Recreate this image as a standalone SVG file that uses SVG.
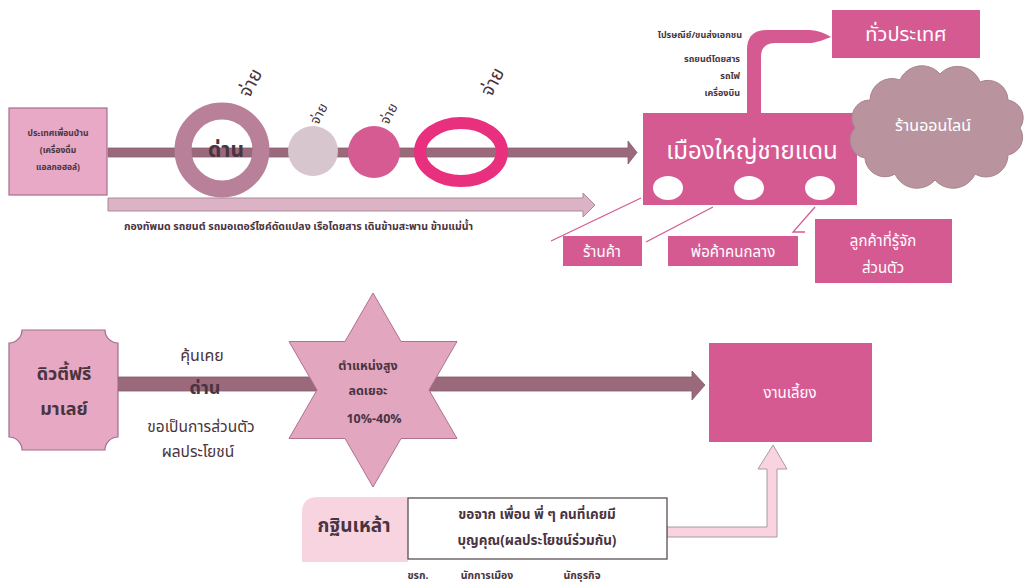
<svg xmlns="http://www.w3.org/2000/svg" width="1026" height="583" viewBox="0 0 1026 583">
<style>
text{font-family:"Noto Sans Thai","Noto Sans","DejaVu Sans","Liberation Sans",sans-serif;text-anchor:middle}
.dk{fill:#4a3440}
.b{font-weight:bold}
.w{fill:#ffffff}
.pink{fill:#d65a92}
.conn{stroke:#d65a92;stroke-width:1.3;fill:none}
</style>
<rect width="1026" height="583" fill="#ffffff"/>

<g id="connectors">
  <path d="M108,148 L628,148 L628,141 L637,152.5 L628,164 L628,157 L108,157 Z" fill="#9a6a7c" stroke="#8a5d6f" stroke-width="0.8"/>
  <path d="M108,198 L583,198 L583,193 L595,205 L583,217 L583,211 L108,211 Z" fill="#dcb3c5" stroke="#a9899a" stroke-width="1"/>
  <path d="M641,198 L551,241" class="conn"/>
  <path d="M713,207 L646,242" class="conn"/>
  <path d="M815,207 L793,232 L805,232" class="conn"/>
  <path d="M747,113 L747,50 Q747,30 767,30 L810,30 Q822,31 831,37 Q822,41 812,43 L775,43 Q761,43 761,57 L761,113 Z" fill="#d65a92"/>
  <path d="M118,377 L692,377 L692,371 L705,385 L692,400 L692,391 L118,391 Z" fill="#9a6a7c" stroke="#85596b" stroke-width="0.8"/>
  <path d="M667,527 L767,527 L767,469 L758,469 L773,445 L787,469 L777,469 L777,537 L667,537 Z" fill="#f9d3df" stroke="#a89aa2" stroke-width="1"/>
</g>

<g id="node-neighbor">
  <rect x="9" y="108" width="98" height="87" fill="#e7a9c5" stroke="#a76f8a" stroke-width="1.2"/>
  <text x="58" y="136" class="dk b" font-size="8.5">ประเทศเพื่อนบ้าน</text>
  <text x="58" y="153" class="dk b" font-size="8.5">(เครื่องดื่ม</text>
  <text x="58" y="170" class="dk b" font-size="8.5">แอลกอฮอล์)</text>
</g>

<g id="node-checkpoint-ring">
  <circle cx="222" cy="150" r="39" fill="none" stroke="#b98099" stroke-width="17"/>
  <text x="226" y="157" class="dk b" font-size="21">ด่าน</text>
  <text x="0" y="0" class="dk" font-size="19" transform="translate(256,86) rotate(-62)">จ่าย</text>
</g>
<g id="node-circle-light">
  <circle cx="313" cy="151" r="25" fill="#d8c6ce"/>
  <text x="0" y="0" class="dk" font-size="14" transform="translate(323,116) rotate(-62)">จ่าย</text>
</g>
<g id="node-circle-pink">
  <circle cx="374" cy="152" r="26" fill="#d65b93"/>
  <text x="0" y="0" class="dk" font-size="14" transform="translate(393,116) rotate(-62)">จ่าย</text>
</g>
<g id="node-ring-magenta">
  <ellipse cx="461" cy="152" rx="41" ry="29" fill="none" stroke="#e8307e" stroke-width="12"/>
  <text x="0" y="0" class="dk" font-size="19" transform="translate(498,85) rotate(-62)">จ่าย</text>
</g>

<g id="label-routes">
  <text x="124" y="230" class="dk b" font-size="10.5" style="text-anchor:start">กองทัพมด   รถยนต์  รถมอเตอร์ไซค์ดัดแปลง เรือโดยสาร เดินข้ามสะพาน ข้ามแม่น้ำ</text>
</g>

<g id="node-border-city">
  <rect x="643" y="113" width="214" height="92" class="pink"/>
  <text x="752" y="159" class="w" font-size="24">เมืองใหญ่ชายแดน</text>
  <ellipse cx="668" cy="188" rx="15" ry="12" fill="#ffffff"/>
  <ellipse cx="749" cy="188" rx="15" ry="12" fill="#ffffff"/>
  <ellipse cx="820" cy="188" rx="15" ry="12" fill="#ffffff"/>
</g>

<g id="label-transport">
  <text x="742" y="38" class="dk b" font-size="9" style="text-anchor:end">ไปรษณีย์/ขนส่งเอกชน</text>
  <text x="740" y="62" class="dk b" font-size="9" style="text-anchor:end">รถยนต์โดยสาร</text>
  <text x="740" y="79" class="dk b" font-size="9" style="text-anchor:end">รถไฟ</text>
  <text x="740" y="96" class="dk b" font-size="9" style="text-anchor:end">เครื่องบิน</text>
</g>

<g id="node-nationwide">
  <rect x="832" y="10" width="148" height="48" class="pink"/>
  <text x="906" y="41" class="w" font-size="20">ทั่วประเทศ</text>
</g>

<g id="node-online">
  <path d="M870,100 A22,22 0 0,1 900,80 A24,24 0 0,1 940,74 A24,24 0 0,1 980,82 A20,20 0 0,1 1008,100 A18,18 0 0,1 1020,128 A18,18 0 0,1 1008,155 A22,22 0 0,1 975,174 A24,24 0 0,1 935,180 A24,24 0 0,1 895,174 A20,20 0 0,1 865,158 A18,18 0 0,1 855,128 A18,18 0 0,1 870,100 Z" fill="#b9949f" stroke="#a88390" stroke-width="1"/>
  <text x="933" y="131" class="w" font-size="16">ร้านออนไลน์</text>
</g>

<g id="node-shop">
  <rect x="563" y="236" width="79" height="30" class="pink"/>
  <text x="602" y="257" class="w" font-size="15">ร้านค้า</text>
</g>
<g id="node-middleman">
  <rect x="668" y="236" width="130" height="30" class="pink"/>
  <text x="733" y="257" class="w" font-size="15">พ่อค้าคนกลาง</text>
</g>
<g id="node-known-customer">
  <rect x="815" y="219" width="137" height="64" class="pink"/>
  <text x="883" y="246" class="w" font-size="15">ลูกค้าที่รู้จัก</text>
  <text x="883" y="273" class="w" font-size="15">ส่วนตัว</text>
</g>

<g id="node-dutyfree">
  <path d="M22,330 L105,330 A13,13 0 0,0 118,343 L118,437 A13,13 0 0,0 105,450 L22,450 A13,13 0 0,0 9,437 L9,343 A13,13 0 0,0 22,330 Z" fill="#e6a8c2" stroke="#a07088" stroke-width="1.2"/>
  <text x="64" y="380" class="dk b" font-size="18">ดิวตี้ฟรี</text>
  <text x="64" y="415" class="dk b" font-size="18">มาเลย์</text>
</g>

<g id="label-checkpoint">
  <text x="202" y="361" class="dk" font-size="16">คุ้นเคย</text>
  <text x="205" y="394" class="dk b" font-size="18">ด่าน</text>
  <text x="201" y="432" class="dk" font-size="15.5">ขอเป็นการส่วนตัว</text>
  <text x="198" y="457" class="dk" font-size="15.5">ผลประโยชน์</text>
</g>

<g id="node-star">
  <polygon points="373,293 401,341.5 457,341.5 429,390 457,438.5 401,438.5 373,487 345,438.5 289,438.5 317,390 289,341.5 345,341.5" fill="#e2a6bf" stroke="#b07090" stroke-width="1"/>
  <text x="368" y="370" class="dk b" font-size="12.5">ตำแหน่งสูง</text>
  <text x="368" y="395" class="dk b" font-size="12.5">ลดเยอะ</text>
  <text x="374" y="423" class="dk b" font-size="12.5">10%-40%</text>
</g>

<g id="node-party">
  <rect x="709" y="343" width="163" height="99" class="pink"/>
  <text x="790" y="398" class="w" font-size="15">งานเลี้ยง</text>
</g>

<g id="node-kathin">
  <path d="M318,497 L408,497 L408,562 L302,562 L302,513 Q302,497 318,497 Z" fill="#f8d4e0"/>
  <text x="354" y="532" class="dk b" font-size="19">กฐินเหล้า</text>
</g>

<g id="node-ask">
  <rect x="408" y="498" width="259" height="61" fill="#ffffff" stroke="#5a5055" stroke-width="1.3"/>
  <text x="537" y="519" class="dk b" font-size="13.5">ขอจาก เพื่อน พี่ ๆ คนที่เคยมี</text>
  <text x="537" y="545" class="dk b" font-size="13.5">บุญคุณ(ผลประโยชน์ร่วมกัน)</text>
</g>

<g id="label-people">
  <text x="418" y="579" class="dk b" font-size="10.5">ขรก.</text>
  <text x="487" y="579" class="dk b" font-size="10.5">นักการเมือง</text>
  <text x="582" y="579" class="dk b" font-size="10.5">นักธุรกิจ</text>
</g>
</svg>
